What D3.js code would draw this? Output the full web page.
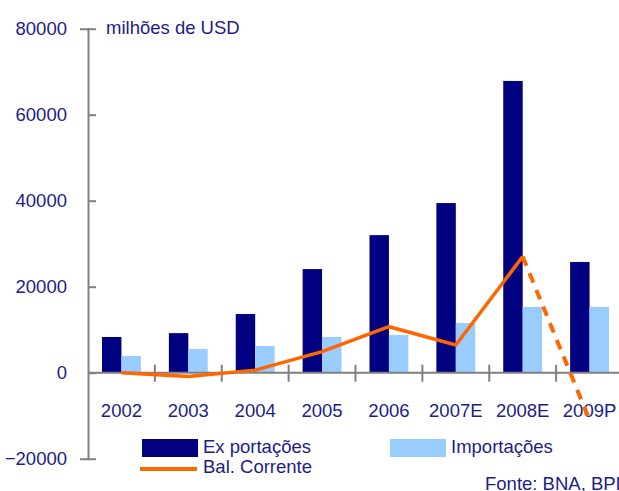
<!DOCTYPE html>
<html>
<head>
<meta charset="utf-8">
<script src="https://cdn.jsdelivr.net/npm/d3@7"></script>
<style>
  body { margin: 0; background: #fff; }
  text { font-family: "Liberation Sans", Arial, sans-serif; fill: #1c1c8a; }
</style>
</head>
<body>
<div id="chart"></div>
<script>
const width = 619
const height = 491

const anos = ['2002', '2003', '2004', '2005', '2006', '2007E', '2008E', '2009P'];
const exportacoes = [8300, 9200, 13650, 24100, 32000, 39450, 67850, 25750];
const importacoes = [3900, 5500, 6200, 8300, 8750, 11550, 15300, 15300];
const balCorrente = [0, -900, 600, 4900, 10700, 6450, 27000, -11000];
const yTicks = [-20000, 0, 20000, 40000, 60000, 80000];

const fs = '18.5px';

const svg = d3.select('#chart').append('svg').attr('width', width).attr('height', height);

const x = d3.scaleBand().domain(anos).range([88, 623]);
const x1 = d3.scaleBand().domain(['exp', 'imp']).range([14, x.bandwidth() - 14]);
const y = d3.scaleLinear().domain([-20000, 80000]).range([458.7, 28.7]);

const data = anos.map((a, i) => ({ ano: a, exp: exportacoes[i], imp: importacoes[i], bal: balCorrente[i] }));

// barras
const grupos = svg.append('g').selectAll('g')
  .data(data)
  .enter().append('g')
  .attr('transform', d => 'translate(' + x(d.ano) + ',0)');

grupos.append('rect')
  .attr('x', x1('exp'))
  .attr('y', d => y(d.exp))
  .attr('width', x1.bandwidth())
  .attr('height', d => y(0) - y(d.exp))
  .attr('fill', '#000080');

grupos.append('rect')
  .attr('x', x1('imp'))
  .attr('y', d => y(d.imp))
  .attr('width', x1.bandwidth())
  .attr('height', d => y(0) - y(d.imp))
  .attr('fill', '#99ccff');

// eixo y
const yAxis = svg.append('g')
  .attr('transform', 'translate(88,0)')
  .call(d3.axisLeft(y).tickValues(yTicks).tickSize(8).tickPadding(13).tickFormat(d3.format('d')));
yAxis.select('.domain').attr('stroke', '#808080').attr('stroke-width', 2);
yAxis.selectAll('.tick line').attr('x2', 8).attr('stroke', '#808080').attr('stroke-width', 2);
yAxis.selectAll('.tick text')
  .style('font-size', fs)
  .style('font-family', '"Liberation Sans", Arial, sans-serif')
  .attr('fill', '#1c1c8a');

// eixo x (no zero)
svg.append('line')
  .attr('x1', 88).attr('x2', width)
  .attr('y1', y(0)).attr('y2', y(0))
  .attr('stroke', '#808080').attr('stroke-width', 2);

svg.append('g').selectAll('line')
  .data(anos.slice(1))
  .enter().append('line')
  .attr('x1', d => x(d)).attr('x2', d => x(d))
  .attr('y1', y(0) - 8).attr('y2', y(0) + 9)
  .attr('stroke', '#808080').attr('stroke-width', 2);

svg.append('g').selectAll('text')
  .data(anos)
  .enter().append('text')
  .attr('x', d => x(d) + x.bandwidth() / 2)
  .attr('y', 417)
  .attr('text-anchor', 'middle')
  .style('font-size', fs)
  .text(d => d);

// linha da balanca corrente
const cx = d => x(d.ano) + x.bandwidth() / 2;
const linha = d3.line().x(cx).y(d => y(d.bal));

svg.append('path')
  .datum(data.slice(0, 7))
  .attr('d', linha)
  .attr('fill', 'none')
  .attr('stroke', '#ff6600')
  .attr('stroke-width', 3.5);

svg.append('path')
  .datum(data.slice(6))
  .attr('d', linha)
  .attr('fill', 'none')
  .attr('stroke', '#ff6600')
  .attr('stroke-width', 4)
  .attr('stroke-dasharray', '10,8');

svg.append('text')
  .attr('x', 106).attr('y', 34)
  .style('font-size', fs)
  .text('milhões de USD');

// legenda
svg.append('rect').attr('x', 142).attr('y', 439).attr('width', 56).attr('height', 18).attr('fill', '#000080');
svg.append('text').attr('x', 203).attr('y', 453).style('font-size', fs).text('Ex portações');
svg.append('rect').attr('x', 390).attr('y', 439).attr('width', 56).attr('height', 18).attr('fill', '#99ccff');
svg.append('text').attr('x', 451).attr('y', 453).style('font-size', fs).text('Importações');
svg.append('line').attr('x1', 140).attr('x2', 197).attr('y1', 469).attr('y2', 469)
  .attr('stroke', '#ff6600').attr('stroke-width', 4);
svg.append('text').attr('x', 203).attr('y', 473).style('font-size', fs).text('Bal. Corrente');

svg.append('text').attr('x', 485).attr('y', 490).style('font-size', fs).text('Fonte: BNA, BPI');
</script>
</body>
</html>
